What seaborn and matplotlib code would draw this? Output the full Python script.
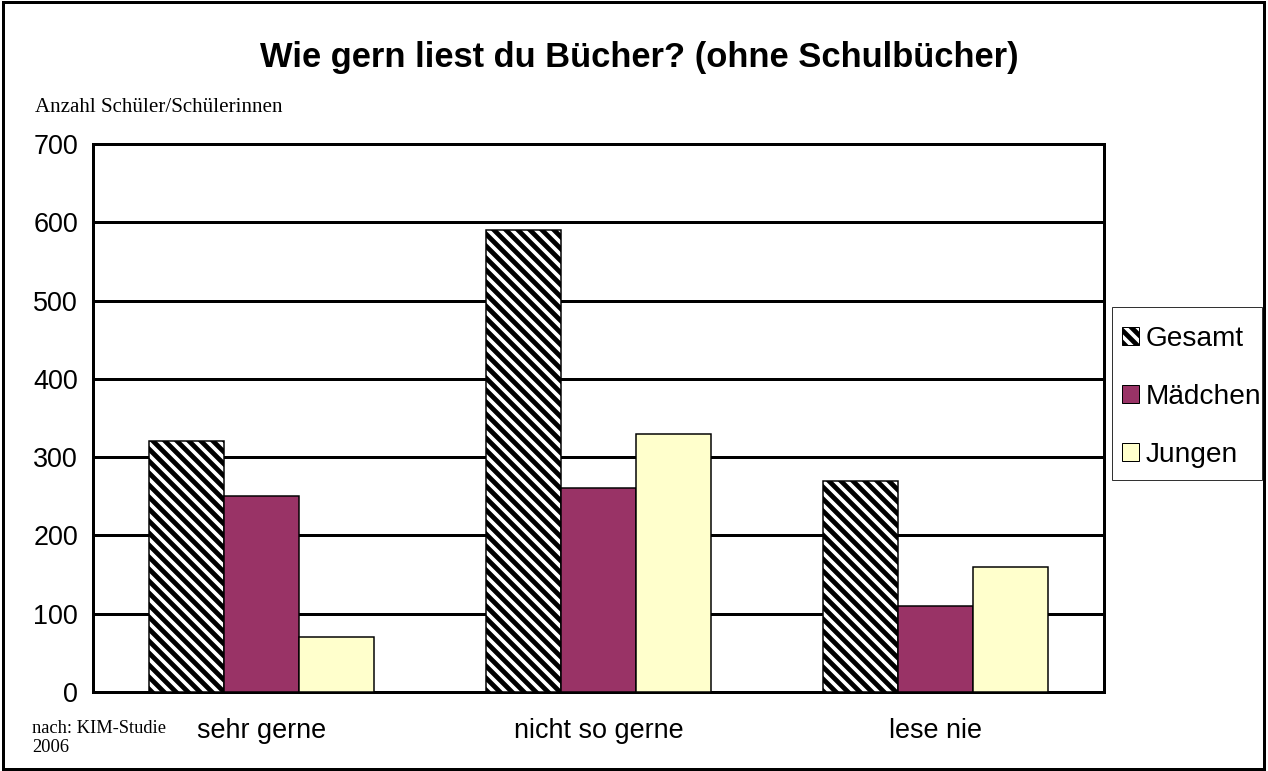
import matplotlib
matplotlib.use("Agg")
import matplotlib.pyplot as plt
import matplotlib.patches as mpatches
import seaborn as sns
import pandas as pd

categories = ["sehr gerne", "nicht so gerne", "lese nie"]
series_names = ["Gesamt", "Mädchen", "Jungen"]
gesamt = [320, 590, 270]
maedchen = [250, 260, 110]
jungen = [70, 330, 160]
y_ticks = [0, 100, 200, 300, 400, 500, 600, 700]

sns.set_theme(style="white")
plt.rcParams['font.family'] = ['Liberation Sans', 'DejaVu Sans']
plt.rcParams['hatch.linewidth'] = 4.8
plt.rcParams['hatch.color'] = 'black'
plt.rcParams['text.color'] = 'black'
plt.rcParams['xtick.color'] = 'black'
plt.rcParams['ytick.color'] = 'black'

HATCH = "\\\\"

rows = []
for name, vals in zip(series_names, [gesamt, maedchen, jungen]):
    for c, v in zip(categories, vals):
        rows.append({"Kategorie": c, "Serie": name, "Wert": v})
df = pd.DataFrame(rows)

DPI = 72
W, H = 1268, 771
fig = plt.figure(figsize=(W / DPI, H / DPI), dpi=DPI)
ax = fig.add_axes([93 / W, 1 - 692 / H, (1104 - 93) / W, (692 - 144) / H])

colors = {"Gesamt": "white", "Mädchen": "#993366", "Jungen": "#FFFFCC"}
sns.barplot(data=df, x="Kategorie", y="Wert", hue="Serie", order=categories,
            hue_order=series_names, palette=colors, width=0.667, ax=ax,
            saturation=1, edgecolor="black", linewidth=1.5, legend=False, zorder=3)

for bar in ax.containers[0]:
    bar.set_hatch(HATCH)

ax.set_ylim(0, 700)
ax.set_xlim(-0.5, len(categories) - 0.5)
ax.set_yticks(y_ticks)
ax.set_yticklabels([str(t) for t in y_ticks], fontsize=27)
ax.yaxis.grid(True, color="black", linewidth=3, zorder=0)
ax.set_axisbelow(True)
ax.set_xlabel("")
ax.set_ylabel("")

# category ticks at boundaries
ax.set_xticks([i - 0.5 for i in range(len(categories) + 1)], minor=False)
ax.set_xticklabels([])
ax.set_xticks(range(len(categories)), minor=True)
ax.set_xticklabels(categories, minor=True, fontsize=27)
ax.tick_params(axis="x", which="minor", length=0, pad=26)
ax.tick_params(axis="x", which="major", length=8, width=1, color="#555555", direction="out")
ax.tick_params(axis="y", length=8, width=1, color="#555555", direction="out", pad=7)

for s in ax.spines.values():
    s.set_visible(True)
    s.set_color("black")
    s.set_linewidth(3)

fig.suptitle("Wie gern liest du Bücher? (ohne Schulbücher)", fontsize=34.5,
             fontweight="bold", x=0.504, y=1 - 57 / H, va="center")

fig.text(35 / W, 1 - 107 / H, "Anzahl Schüler/Schülerinnen",
         fontsize=21, family=["Liberation Serif", "DejaVu Serif"], va="center")
fig.text(32 / W, 1 - 738 / H, "nach: KIM-Studie\n2006",
         fontsize=18.5, family=["Liberation Serif", "DejaVu Serif"], va="center",
         linespacing=1.2)

handles = [mpatches.Patch(facecolor="white", edgecolor="black", hatch=HATCH, label="Gesamt"),
           mpatches.Patch(facecolor="#993366", edgecolor="black", label="Mädchen"),
           mpatches.Patch(facecolor="#FFFFCC", edgecolor="black", label="Jungen")]
leg = fig.legend(handles=handles, loc="upper left",
                 bbox_to_anchor=(1112 / W, 1 - 316 / H),
                 fontsize=28, frameon=False,
                 handlelength=0.6, handleheight=0.6, handletextpad=0.25,
                 labelspacing=1.15, borderpad=0.35, borderaxespad=0)

# legend frame
fig.patches.append(mpatches.Rectangle((1112 / W, 1 - 480 / H), 150 / W, 173 / H,
                                      transform=fig.transFigure, fill=False,
                                      edgecolor="#333333", linewidth=1))

# outer border
fig.patches.append(mpatches.Rectangle((0.002, 0.003), 0.995, 0.994,
                                      transform=fig.transFigure, fill=False,
                                      edgecolor="black", linewidth=3))

fig.savefig("out.png", dpi=DPI)
